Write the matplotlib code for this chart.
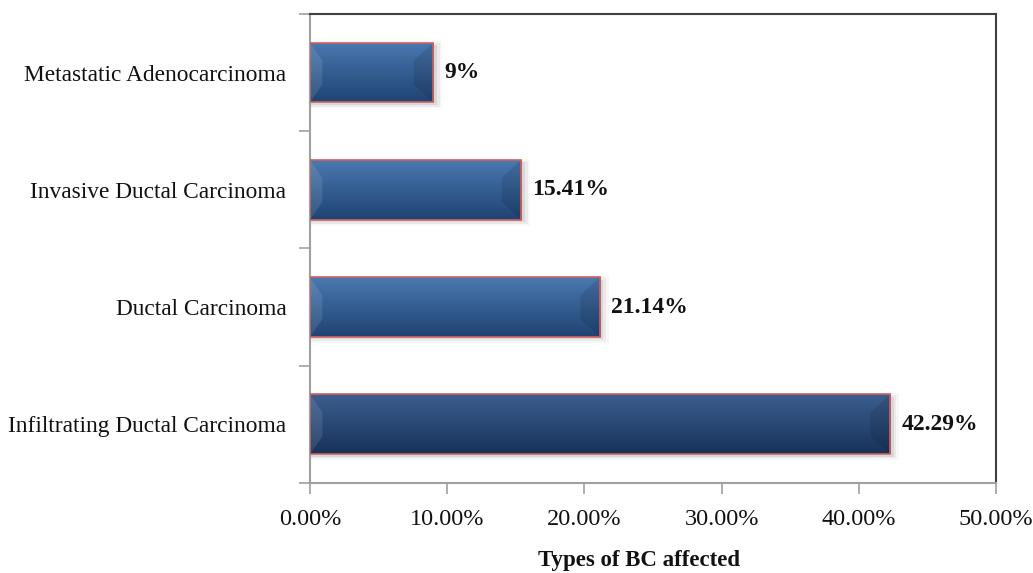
import matplotlib.pyplot as plt
import numpy as np
from matplotlib.patches import Polygon, Rectangle
from matplotlib.ticker import FuncFormatter, MultipleLocator

plt.rcParams['font.family'] = ['Liberation Serif', 'DejaVu Serif']

# breast cancer types and their share (%)
types = ['Infiltrating Ductal Carcinoma', 'Ductal Carcinoma',
         'Invasive Ductal Carcinoma', 'Metastatic Adenocarcinoma']
shares = [42.29, 21.14, 15.41, 9]
share_labels = ['42.29%', '21.14%', '15.41%', '9%']

# gradient top/bottom colours per bar (bottom bar is darker)
bar_tops = ['#3b5f8f', '#4a78b0', '#4a78b0', '#4a78b0']
bar_bottoms = ['#18325a', '#1f4473', '#1f4473', '#1f4473']

fig = plt.figure(figsize=(10.33, 5.73), dpi=100)
ax = fig.add_axes([0.3001, 0.157, 0.6641, 0.8187])

ypos = np.arange(len(types))
h = 0.51
bars = ax.barh(ypos, shares, height=h, color='#2a5183',
               edgecolor='none', zorder=3)

for i, b in enumerate(bars):
    x0, y0 = b.get_x(), b.get_y()
    w, hh = b.get_width(), b.get_height()
    # soft drop shadow
    for k, a in enumerate([0.08, 0.05, 0.03]):
        off = 0.25 + 0.2 * k
        ax.add_patch(Rectangle((x0, y0 - 0.02 - 0.015 * k), w + off, hh + 0.03 * k,
                               color='#000000', alpha=a, lw=0, zorder=2))
    # vertical gradient fill
    grad = np.linspace(0, 1, 64)[:, None]
    c1 = np.array(plt.matplotlib.colors.to_rgb(bar_bottoms[i]))
    c2 = np.array(plt.matplotlib.colors.to_rgb(bar_tops[i]))
    img = c1[None, None, :] * (1 - grad[:, :, None]) + c2[None, None, :] * grad[:, :, None]
    im = ax.imshow(img, extent=(x0, x0 + w, y0, y0 + hh), origin='lower',
                   aspect='auto', zorder=4, interpolation='bilinear')
    im.set_clip_path(b)
    # bevel at both ends
    bev = min(0.9, w * 0.12)
    ax.add_patch(Polygon([(x0, y0), (x0 + bev, y0 + hh * 0.3), (x0 + bev, y0 + hh * 0.7),
                          (x0, y0 + hh)], closed=True, color='#ffffff', alpha=0.10,
                         lw=0, zorder=5))
    ax.add_patch(Polygon([(x0 + w, y0), (x0 + w - bev * 1.6, y0 + hh * 0.3),
                          (x0 + w - bev * 1.6, y0 + hh * 0.7), (x0 + w, y0 + hh)],
                         closed=True, color='#000000', alpha=0.10, lw=0, zorder=5))
    # red outline
    ax.add_patch(Rectangle((x0, y0), w, hh, fill=False, edgecolor='#d06060',
                           lw=1.2, zorder=6))
    ax.text(w + 0.8, ypos[i], share_labels[i], va='center', ha='left',
            fontsize=17, fontweight='bold', color='#111111', zorder=7)

ax.set_xlim(0, 50)
ax.set_ylim(-0.5, len(types) - 0.5)
ax.xaxis.set_major_locator(MultipleLocator(10))
ax.xaxis.set_major_formatter(FuncFormatter(lambda v, p: f'{v:.2f}%'))

ax.set_yticks(ypos)
ax.set_yticklabels(types)
ax.set_yticks(np.arange(-0.5, len(types)), minor=True)
ax.tick_params(axis='y', which='major', length=0, pad=17, labelsize=16.8, labelcolor='#111111')
ax.tick_params(axis='y', which='minor', length=8, width=1.2, color='#a0a0a0', direction='out')
ax.tick_params(axis='x', length=8, width=1.2, color='#a0a0a0', direction='out',
               pad=11, labelsize=17.5, labelcolor='#111111')

for side in ['left', 'bottom']:
    ax.spines[side].set_color('#a0a0a0')
    ax.spines[side].set_linewidth(1.5)
for side in ['top', 'right']:
    ax.spines[side].set_color('#404040')
    ax.spines[side].set_linewidth(1.5)

ax.set_xlabel('Types of BC affected', fontsize=16.5, fontweight='bold',
              color='#111111', va='center')
ax.xaxis.set_label_coords(0.48, -0.165)

fig.savefig('out.png', dpi=100)
